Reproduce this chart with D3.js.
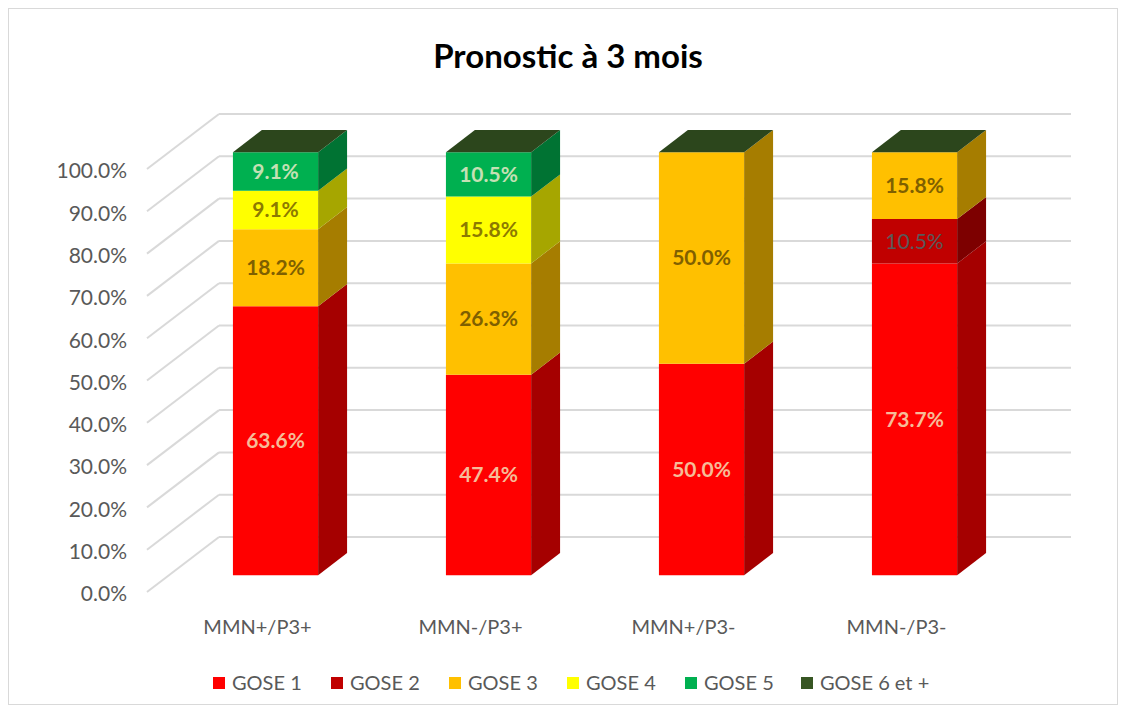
<!DOCTYPE html>
<html>
<head>
<meta charset="utf-8">
<script src="https://cdn.jsdelivr.net/npm/d3@7"></script>
<style>
  body { margin: 0; background: #fff; }
  text { font-family: Lato, "Noto Sans", sans-serif; }
</style>
</head>
<body>
<script>
const categories = ["MMN+/P3+", "MMN-/P3+", "MMN+/P3-", "MMN-/P3-"];
const seriesNames = ["GOSE 1", "GOSE 2", "GOSE 3", "GOSE 4", "GOSE 5", "GOSE 6 et +"];
const gose1 = [0.636, 0.474, 0.500, 0.737];
const gose2 = [0, 0, 0, 0.105];
const gose3 = [0.182, 0.263, 0.500, 0.158];
const gose4 = [0.091, 0.158, 0, 0];
const gose5 = [0.091, 0.105, 0, 0];
const gose6 = [0, 0, 0, 0];
const yTicks = [0, 0.1, 0.2, 0.3, 0.4, 0.5, 0.6, 0.7, 0.8, 0.9, 1.0];

const frontColors = ["#ff0000", "#c00000", "#ffc000", "#ffff00", "#00b050", "#375623"];
const sideColors = ["#a50000", "#7d0000", "#a67d00", "#a6a600", "#007333", "#23381a"];
const topColors = ["#ff4d4d", "#c83030", "#ffd040", "#ffff60", "#33c070", "#2c461c"];
const labelColors = ["#f6bc98", "#595959", "#7f6000", "#8c7a00", "#c5e0b4", "#ffffff"];

const width = 1121, height = 710;
const depth = [72, -55];          // back wall offset from the front edge
const bar0 = 0.306, bar1 = 0.708; // bar depth span (fraction of wall depth)

const proj = (x, y, z) => [x + depth[0] * z, y + depth[1] * z];

const x = d3.scaleBand()
    .domain(categories)
    .range([147, 999])
    .paddingInner(0.6)
    .paddingOuter(0.3);

const y = d3.scaleLinear()
    .domain([0, 1])
    .range([592, 169]);

const table = categories.map((c, i) => ({
  cat: c,
  "GOSE 1": gose1[i], "GOSE 2": gose2[i], "GOSE 3": gose3[i],
  "GOSE 4": gose4[i], "GOSE 5": gose5[i], "GOSE 6 et +": gose6[i]
}));
const stacked = d3.stack().keys(seriesNames)(table);

const svg = d3.select("body").append("svg")
    .attr("width", width)
    .attr("height", height)
    .attr("viewBox", [0, 0, width, height]);

svg.append("rect")
    .attr("x", 8.5).attr("y", 8.5)
    .attr("width", 1109).attr("height", 696)
    .attr("fill", "#fff")
    .attr("stroke", "#d9d9d9");

svg.append("text")
    .attr("x", 568)
    .attr("y", 68)
    .attr("text-anchor", "middle")
    .attr("font-size", 33)
    .attr("font-weight", "bold")
    .attr("fill", "#000")
    .text("Pronostic à 3 mois");

// walls: back horizontal lines + left side diagonals
const grid = svg.append("g")
    .attr("stroke", "#d9d9d9")
    .attr("stroke-width", 2)
    .attr("fill", "none");

grid.selectAll("path.h")
  .data(yTicks)
  .join("path")
    .attr("class", "h")
    .attr("d", d => `M${proj(x.range()[0], y(d), 1)}L${proj(x.range()[1], y(d), 1)}`);

grid.selectAll("path.d")
  .data(yTicks)
  .join("path")
    .attr("class", "d")
    .attr("d", d => `M${proj(x.range()[0], y(d), 0)}L${proj(x.range()[0], y(d), 1)}`);

svg.append("g")
    .attr("font-size", 21)
    .attr("fill", "#595959")
    .attr("text-anchor", "end")
  .selectAll("text")
  .data(yTicks)
  .join("text")
    .attr("x", 127)
    .attr("y", d => y(d) + 2)
    .attr("dy", "0.35em")
    .text(d3.format(".1%"));

svg.append("g")
    .attr("font-size", 20)
    .attr("fill", "#595959")
    .attr("text-anchor", "middle")
  .selectAll("text")
  .data(categories)
  .join("text")
    .attr("x", d => x(d) + x.bandwidth() / 2 + 4)
    .attr("y", 634)
    .text(d => d);

// bars
const segments = stacked.flatMap((s, si) => s.map(d => ({si, key: s.key, cat: d.data.cat, y0: d[0], y1: d[1]})));

const poly = pts => "M" + pts.join("L") + "Z";

const bars = svg.append("g");

bars.selectAll("path.front")
  .data(segments.filter(d => d.y1 > d.y0))
  .join("path")
    .attr("class", "front")
    .attr("fill", d => frontColors[d.si])
    .attr("d", d => {
      const a = x(d.cat), b = a + x.bandwidth();
      return poly([proj(a, y(d.y0), bar0), proj(b, y(d.y0), bar0), proj(b, y(d.y1), bar0), proj(a, y(d.y1), bar0)]);
    });

bars.selectAll("path.side")
  .data(segments.filter(d => d.y1 > d.y0))
  .join("path")
    .attr("class", "side")
    .attr("fill", d => sideColors[d.si])
    .attr("d", d => {
      const b = x(d.cat) + x.bandwidth();
      return poly([proj(b, y(d.y0), bar0), proj(b, y(d.y0), bar1), proj(b, y(d.y1), bar1), proj(b, y(d.y1), bar0)]);
    });

// top face comes from the last series (GOSE 6 et +), even when empty
bars.selectAll("path.top")
  .data(stacked[stacked.length - 1].map(d => ({cat: d.data.cat, v: d[1]})))
  .join("path")
    .attr("class", "top")
    .attr("fill", topColors[topColors.length - 1])
    .attr("d", d => {
      const a = x(d.cat), b = a + x.bandwidth();
      return poly([proj(a, y(d.v), bar0), proj(b, y(d.v), bar0), proj(b, y(d.v), bar1), proj(a, y(d.v), bar1)]);
    });

bars.selectAll("text")
  .data(segments.filter(d => d.y1 > d.y0))
  .join("text")
    .attr("x", d => proj(x(d.cat) + x.bandwidth() / 2, 0, bar0)[0])
    .attr("y", d => proj(0, y((d.y0 + d.y1) / 2), bar0)[1])
    .attr("dy", "0.35em")
    .attr("text-anchor", "middle")
    .attr("font-size", 21)
    .attr("font-weight", d => d.si === 1 ? "normal" : "bold")
    .attr("fill", d => labelColors[d.si])
    .text(d => d3.format(".1%")(d.y1 - d.y0));

// legend
const legendX = [213, 331, 449, 567, 685, 801];
const legend = svg.append("g")
    .attr("font-size", 20)
    .attr("fill", "#595959")
  .selectAll("g")
  .data(seriesNames)
  .join("g")
    .attr("transform", (d, i) => `translate(${legendX[i]},683)`);

legend.append("rect")
    .attr("y", -6)
    .attr("width", 12)
    .attr("height", 12)
    .attr("fill", (d, i) => frontColors[i]);

legend.append("text")
    .attr("x", 19)
    .attr("dy", "0.35em")
    .text(d => d);
</script>
</body>
</html>
